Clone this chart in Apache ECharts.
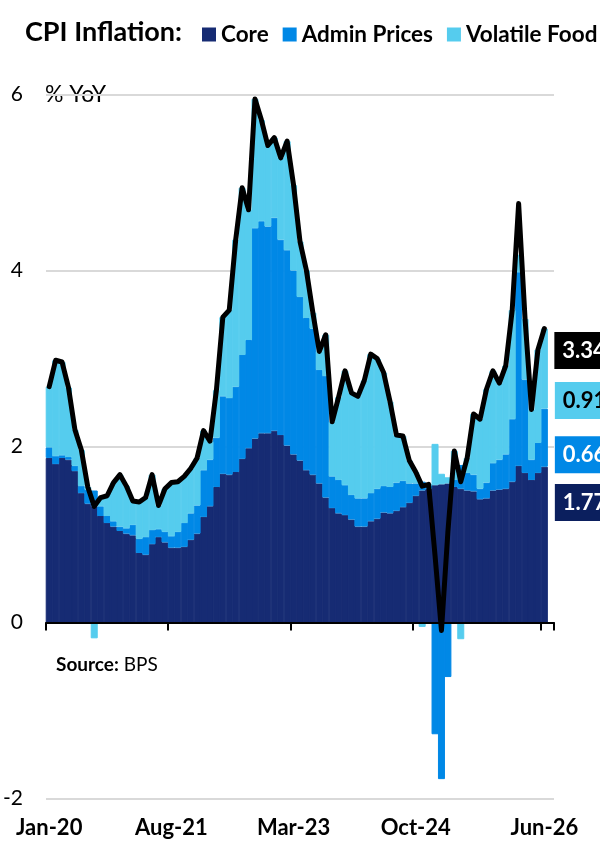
<!DOCTYPE html>
<html>
<head>
<meta charset="utf-8">
<script src="https://cdn.jsdelivr.net/npm/echarts@6/dist/echarts.min.js"></script>
<style>
html,body{margin:0;padding:0;background:#fff;}
#chart{width:600px;height:846px;}
</style>
</head>
<body>
<div id="chart"></div>
<script>
// Monthly categories Jan-20 .. Jul-26 (last slot empty)
const monthNames = ['Jan','Feb','Mar','Apr','May','Jun','Jul','Aug','Sep','Oct','Nov','Dec'];
const categories = [];
for (let y = 20; y <= 26; y++) {
  for (let m = 0; m < 12; m++) {
    if (y === 26 && m > 6) break;
    categories.push(monthNames[m] + '-' + y);
  }
}
const tickIndexes = [0, 19, 38, 57, 77];

// Contributions to YoY CPI inflation (pp)
const core = [
  1.87,1.80,1.87,1.85,1.72,1.47,1.35,1.32,1.21,1.13,1.09,1.04,
  1.01,0.99,0.79,0.77,0.89,0.97,0.91,0.85,0.85,0.86,0.94,1.01,
  1.20,1.32,1.54,1.69,1.68,1.71,1.86,1.98,2.09,2.15,2.15,2.18,
  2.13,2.01,1.91,1.84,1.73,1.68,1.58,1.42,1.30,1.24,1.22,1.17,
  1.09,1.09,1.15,1.18,1.25,1.24,1.27,1.31,1.36,1.44,1.50,1.52,
  1.56,1.57,1.58,1.54,1.52,1.50,1.49,1.40,1.41,1.50,1.51,1.52,
  1.60,1.78,1.70,1.62,1.70,1.77
];
const admin = [
  0.12,0.09,0.03,0.03,0.06,0.08,0.16,0.18,0.11,0.08,0.06,0.05,
  0.06,0.12,0.16,0.20,0.16,0.09,0.12,0.13,0.18,0.27,0.30,0.32,
  0.53,0.53,0.56,0.88,0.87,0.97,1.18,1.23,2.39,2.41,2.35,2.42,
  2.22,2.22,2.09,1.86,1.73,1.66,1.29,1.38,0.36,0.38,0.34,0.28,
  0.32,0.32,0.32,0.34,0.30,0.30,0.32,0.30,0.22,0.14,0.10,0.04,
  -1.27,-1.78,-0.62,0.08,0.27,0.20,0.19,0.12,0.18,0.31,0.34,0.39,
  0.71,2.20,1.06,0.23,0.34,0.66
];
const volatileFood = [
  0.69,1.09,1.06,0.79,0.41,0.41,0.03,-0.18,0.10,0.23,0.44,0.59,
  0.48,0.27,0.42,0.45,0.63,0.27,0.49,0.61,0.57,0.53,0.51,0.54,
  0.45,0.21,0.54,0.90,1.00,1.67,1.90,1.48,1.47,1.15,0.92,0.91,
  0.93,1.24,0.97,0.63,0.54,0.18,0.21,0.47,0.62,0.94,1.30,1.16,
  1.16,1.34,1.58,1.48,1.29,0.97,0.54,0.51,0.26,0.13,-0.05,0.01,
  0.47,0.12,0.07,0.33,-0.19,0.17,0.69,0.79,1.06,1.05,0.87,1.01,
  1.24,0.20,0.69,0.57,1.06,0.91
];
const headline = [
  2.68,2.98,2.96,2.67,2.19,1.96,1.54,1.32,1.42,1.44,1.59,1.68,
  1.55,1.38,1.37,1.42,1.68,1.33,1.52,1.59,1.60,1.66,1.75,1.87,
  2.18,2.06,2.64,3.47,3.55,4.35,4.94,4.69,5.95,5.71,5.42,5.51,
  5.28,5.47,4.97,4.33,4.00,3.52,3.08,3.27,2.28,2.56,2.86,2.61,
  2.57,2.75,3.05,3.00,2.84,2.51,2.13,2.12,1.84,1.71,1.55,1.57,
  0.76,-0.09,1.03,1.95,1.60,1.87,2.37,2.31,2.65,2.86,2.72,2.92,
  3.55,4.76,3.45,2.42,3.10,3.34
];

const FONT = 'Lato';
const C_CORE = '#162B73', C_ADMIN = '#0088E6', C_VOL = '#55CCEE';

function boxLabel(bg, fg, dy, dist) {
  return {
    show: true, position: 'right', distance: dist, offset: [0, dy],
    formatter: p => Number(p.value).toFixed(2),
    backgroundColor: bg, color: fg,
    fontFamily: FONT, fontWeight: 'bold', fontSize: 22, lineHeight: 21,
    padding: [8, 30, 8, 8]
  };
}
function withEnd(arr, label) {
  return arr.map((v, i) => i === arr.length - 1 ? { value: v, label: label } : v);
}
function barStyle(c) {
  return { color: c, borderColor: c, borderWidth: 1, borderRadius: 0, opacity: 1 };
}
const BAR_W = 7;

const chart = echarts.init(document.getElementById('chart'), null, { renderer: 'canvas' });
const tickFn = (idx) => tickIndexes.indexOf(idx) >= 0;

chart.setOption({
  animation: false,
  title: {
    text: 'CPI Inflation:', left: 20, top: 14,
    textStyle: { fontFamily: FONT, fontWeight: 'bold', fontSize: 27, color: '#000' }
  },
  legend: {
    left: 202, top: 23, width: 420, padding: 0, itemWidth: 14, itemHeight: 14, itemGap: 14, icon: 'rect',
    data: ['Core', 'Admin Prices', 'Volatile Food'],
    itemStyle: { borderWidth: 0 },
    textStyle: { fontFamily: FONT, fontWeight: 'bold', fontSize: 22.5, color: '#000', padding: [0, 0, 0, 0] }
  },
  grid: { left: 46, top: 94.5, width: 508, height: 704 },
  xAxis: [
    {
      type: 'category', data: categories, boundaryGap: true,
      axisLine: { onZero: true, lineStyle: { color: '#000', width: 2 } },
      axisTick: { show: true, interval: tickFn, length: 8, lineStyle: { color: '#000', width: 2 } },
      axisLabel: { show: false }, splitLine: { show: false }, z: 10
    },
    {
      type: 'category', data: categories, position: 'bottom', boundaryGap: true,
      axisLine: { show: false, onZero: false }, axisTick: { show: false },
      axisLabel: { interval: tickFn, margin: 18, fontFamily: FONT, fontWeight: 'bold', fontSize: 22, color: '#000' }
    }
  ],
  yAxis: {
    type: 'value', min: -2, max: 6, interval: 2,
    axisLine: { show: false }, axisTick: { show: false },
    axisLabel: { margin: 23, fontFamily: FONT, fontSize: 21, color: '#000' },
    splitLine: { lineStyle: { color: '#D9D9D9', width: 2 } }
  },
  graphic: [
    { type: 'text', left: 45, top: 83, style: { text: '% YoY', fontFamily: FONT, fontSize: 23, fill: '#000' } },
    { type: 'text', left: 56, top: 655, style: {
        text: '{b|Source:} BPS', fontFamily: FONT, fontSize: 19, fill: '#000',
        rich: { b: { fontFamily: FONT, fontSize: 19, fontWeight: 'bold', fill: '#000' } } } }
  ],
  series: [
    { name: 'Core', type: 'bar', stack: 'cpi', barWidth: BAR_W,
      itemStyle: barStyle(C_CORE), data: withEnd(core, boxLabel('#0B1F5E', '#fff', -42, 7)) },
    { name: 'Admin Prices', type: 'bar', stack: 'cpi', barWidth: BAR_W,
      itemStyle: barStyle(C_ADMIN), data: withEnd(admin, boxLabel(C_ADMIN, '#fff', 17, 7)) },
    { name: 'Volatile Food', type: 'bar', stack: 'cpi', barWidth: BAR_W,
      itemStyle: barStyle(C_VOL), data: withEnd(volatileFood, boxLabel(C_VOL, '#000', 32, 7)) },
    { name: 'Headline', type: 'line', data: headline,
      showSymbol: false, symbol: 'none', z: 5,
      lineStyle: { color: '#000', width: 5, join: 'round', cap: 'round' },
      endLabel: {
        show: true, distance: 10, offset: [0, 22],
        formatter: p => Number(p.value).toFixed(2),
        backgroundColor: '#000', color: '#fff',
        fontFamily: FONT, fontWeight: 'bold', fontSize: 22, lineHeight: 21,
        padding: [8, 30, 8, 8]
      } }
  ]
});
</script>
</body>
</html>
